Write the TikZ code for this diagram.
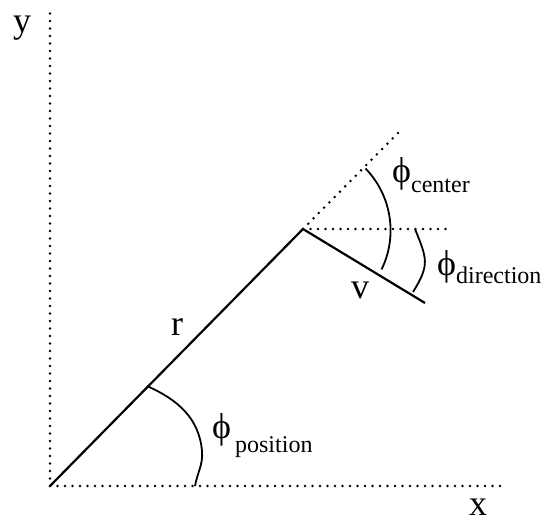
\documentclass[tikz,border=0pt]{standalone}
\usepackage{fontspec}
\setmainfont{Liberation Serif}
\usetikzlibrary{calc}
\tikzset{
  axisline/.style={line width=2.8pt, dash pattern=on 0pt off 7.5pt, line cap=round},
  armline/.style={line width=2.2pt},
  anglemark/.style={line width=1.8pt},
  axislbl/.style={font=\fontsize{36}{36}\selectfont, inner sep=0pt, anchor=base},
  anglelbl/.style={font=\fontsize{36}{36}\selectfont, inner sep=0pt, anchor=base west},
}
% angle name: phi with a lowered subscript word
\newcommand{\anglename}[2]{ϕ{\fontsize{24}{24}\selectfont\raisebox{-#2pt}{#1}}}

\begin{document}
\begin{tikzpicture}[x=1pt,y=1pt]
  \useasboundingbox (0,0) rectangle (544,523);
  \coordinate (O) at (50,37);
  \coordinate (P) at (303,294);
  \coordinate (ytop) at (50,516);
  \coordinate (xend) at (503,37);
  \coordinate (ext) at (398,390);
  \coordinate (hend) at (447,294);
  \coordinate (vend) at (425,220);

  % axes and reference lines
  \draw[axisline] (O) -- (ytop);
  \draw[axisline] (O) -- (xend);
  \draw[axisline] (P) -- (ext);
  \draw[axisline] (P) -- (hend);

  \draw[armline] (O) -- (P) -- (vend);

  % angle marks
  \coordinate (pos1) at (147,137);
  \coordinate (pos2) at (202,72);
  \coordinate (pos3) at (195,37);
  \draw[anglemark] (pos1) to[out=-24,in=95] (pos2) to[out=-85,in=80] (pos3);
  \coordinate (cen1) at ($(P)+(44:87)$);
  \draw[anglemark] (cen1) arc[start angle=44, end angle=-26, radius=89];
  \coordinate (dir1) at (415,294);
  \coordinate (dir2) at (413,231);
  \draw[anglemark] (dir1) to[out=-68,in=58,looseness=1.3] (dir2);

  \node[axislbl] (ylbl) at (22,490) {y};
  \node[axislbl] (xlbl) at (478,8) {x};
  \node[axislbl] (rlbl) at (177,187) {r};
  \node[axislbl] (vlbl) at (360,225) {v};
  \node[anglelbl] (poslbl) at (212,85) {\anglename{\,position}{14}};
  \node[anglelbl] (cenlbl) at (392,340) {\anglename{center}{10}};
  \node[anglelbl] (dirlbl) at (437,247) {\anglename{direction}{7}};
\end{tikzpicture}
\end{document}
